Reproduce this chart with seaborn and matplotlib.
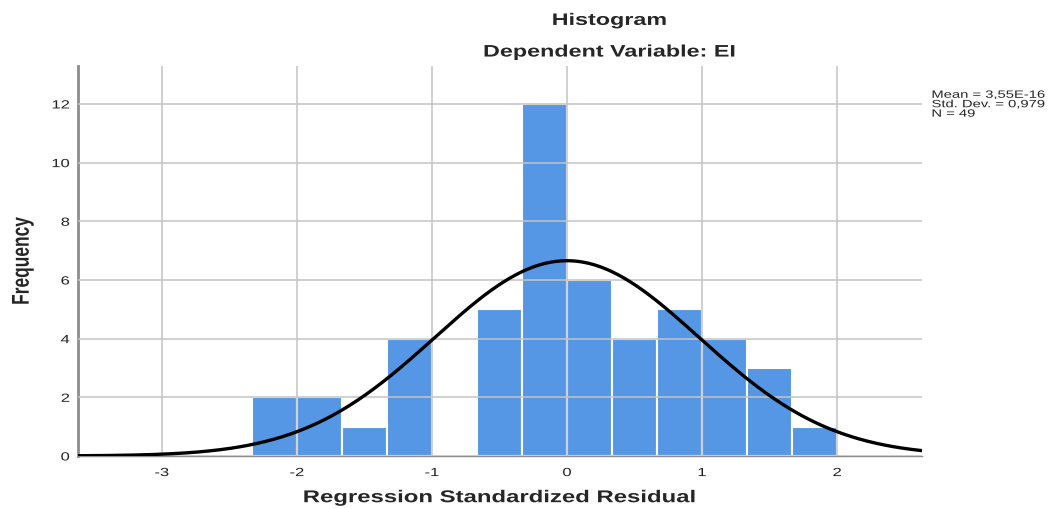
import matplotlib
matplotlib.use("Agg")
import matplotlib.pyplot as plt
import matplotlib.patheffects as pe
from matplotlib.transforms import Affine2D
import numpy as np
import pandas as pd
import seaborn as sns

# histogram counts (bin width 1/3)
bin_left = [-7/3, -2.0, -5/3, -4/3, -1.0, -2/3, -1/3, 0.0, 1/3, 2/3, 1.0, 4/3, 5/3]
counts = [2, 2, 1, 4, 0, 5, 12, 6, 4, 5, 4, 3, 1]
bin_width = 1 / 3

mean = 3.55e-16
std_dev = 0.979
n_obs = 49

x_ticks = [-3, -2, -1, 0, 1, 2]
y_ticks = [0, 2, 4, 6, 8, 10, 12]


class HStretch(pe.AbstractPathEffect):
    # the reference export is stretched sideways, so widen the glyphs in display x
    def __init__(self, sx=1.4, anchor="center"):
        super().__init__()
        self.sx = sx
        self.anchor = anchor

    def draw_path(self, renderer, gc, tpath, affine, rgbFace=None):
        ext = tpath.get_extents(affine)
        if self.anchor == "left":
            cx = ext.x0
        elif self.anchor == "right":
            cx = ext.x1
        else:
            cx = (ext.x0 + ext.x1) / 2
        t = affine + Affine2D().translate(-cx, 0).scale(self.sx, 1).translate(cx, 0)
        renderer.draw_path(gc, tpath, t, rgbFace)


sns.set_theme(style="white")
plt.rcParams["font.family"] = ["Liberation Sans", "DejaVu Sans"]
plt.rcParams["axes.unicode_minus"] = False

fig = plt.figure(figsize=(10.54, 5.10), dpi=100)
ax = fig.add_axes([0.074, 0.104, 0.801, 0.765])

df = pd.DataFrame({"center": np.array(bin_left) + bin_width / 2, "count": counts})
edges = list(bin_left) + [bin_left[-1] + bin_width]
sns.histplot(data=df, x="center", weights="count", bins=edges, ax=ax, color="#5597e5",
             edgecolor="white", linewidth=1.5, alpha=1.0)

# fitted normal curve
xs = np.linspace(-3.62, 2.63, 400)
ys = n_obs * bin_width * np.exp(-0.5 * ((xs - mean) / std_dev) ** 2) / (std_dev * np.sqrt(2 * np.pi))
sns.lineplot(x=xs, y=ys, ax=ax, color="black", linewidth=2.4, zorder=4)

ax.set_xlim(-3.62, 2.63)
ax.set_ylim(0, 13.3)
ax.set_xticks(x_ticks)
ax.set_yticks(y_ticks)
ax.set_axisbelow(False)
ax.grid(True, color="#c4c4c4", linewidth=1.1, zorder=3)
ax.tick_params(length=0, labelsize=8.5, colors="#222222")
ax.tick_params(axis="x", pad=8)
ax.tick_params(axis="y", pad=6)

for side in ["top", "right"]:
    ax.spines[side].set_visible(False)
ax.spines["left"].set_color("#8c8c8c")
ax.spines["left"].set_linewidth(2)
ax.spines["bottom"].set_color("#8c8c8c")
ax.spines["bottom"].set_linewidth(1)

ax.set_xlabel("Regression Standardized Residual", fontsize=12.3, fontweight="bold", labelpad=8,
              path_effects=[HStretch()])
ax.set_ylabel("Frequency", fontsize=12.5, fontweight="bold", labelpad=19,
              path_effects=[HStretch()])

plt.setp(ax.get_xticklabels(), path_effects=[HStretch()])
plt.setp(ax.get_yticklabels(), path_effects=[HStretch(anchor="right")])

fig.text(0.578, 0.958, "Histogram", ha="center", va="center", fontsize=12, fontweight="bold",
         path_effects=[HStretch()])
fig.text(0.578, 0.896, "Dependent Variable: EI", ha="center", va="center", fontsize=12,
         fontweight="bold", path_effects=[HStretch()])

fig.text(0.884, 0.822, f"Mean = 3,55E-16\nStd. Dev. = 0,979\nN = {n_obs}",
         ha="left", va="top", fontsize=7.6, linespacing=0.93,
         path_effects=[HStretch(anchor="left")])

fig.savefig("out.png", dpi=100)
